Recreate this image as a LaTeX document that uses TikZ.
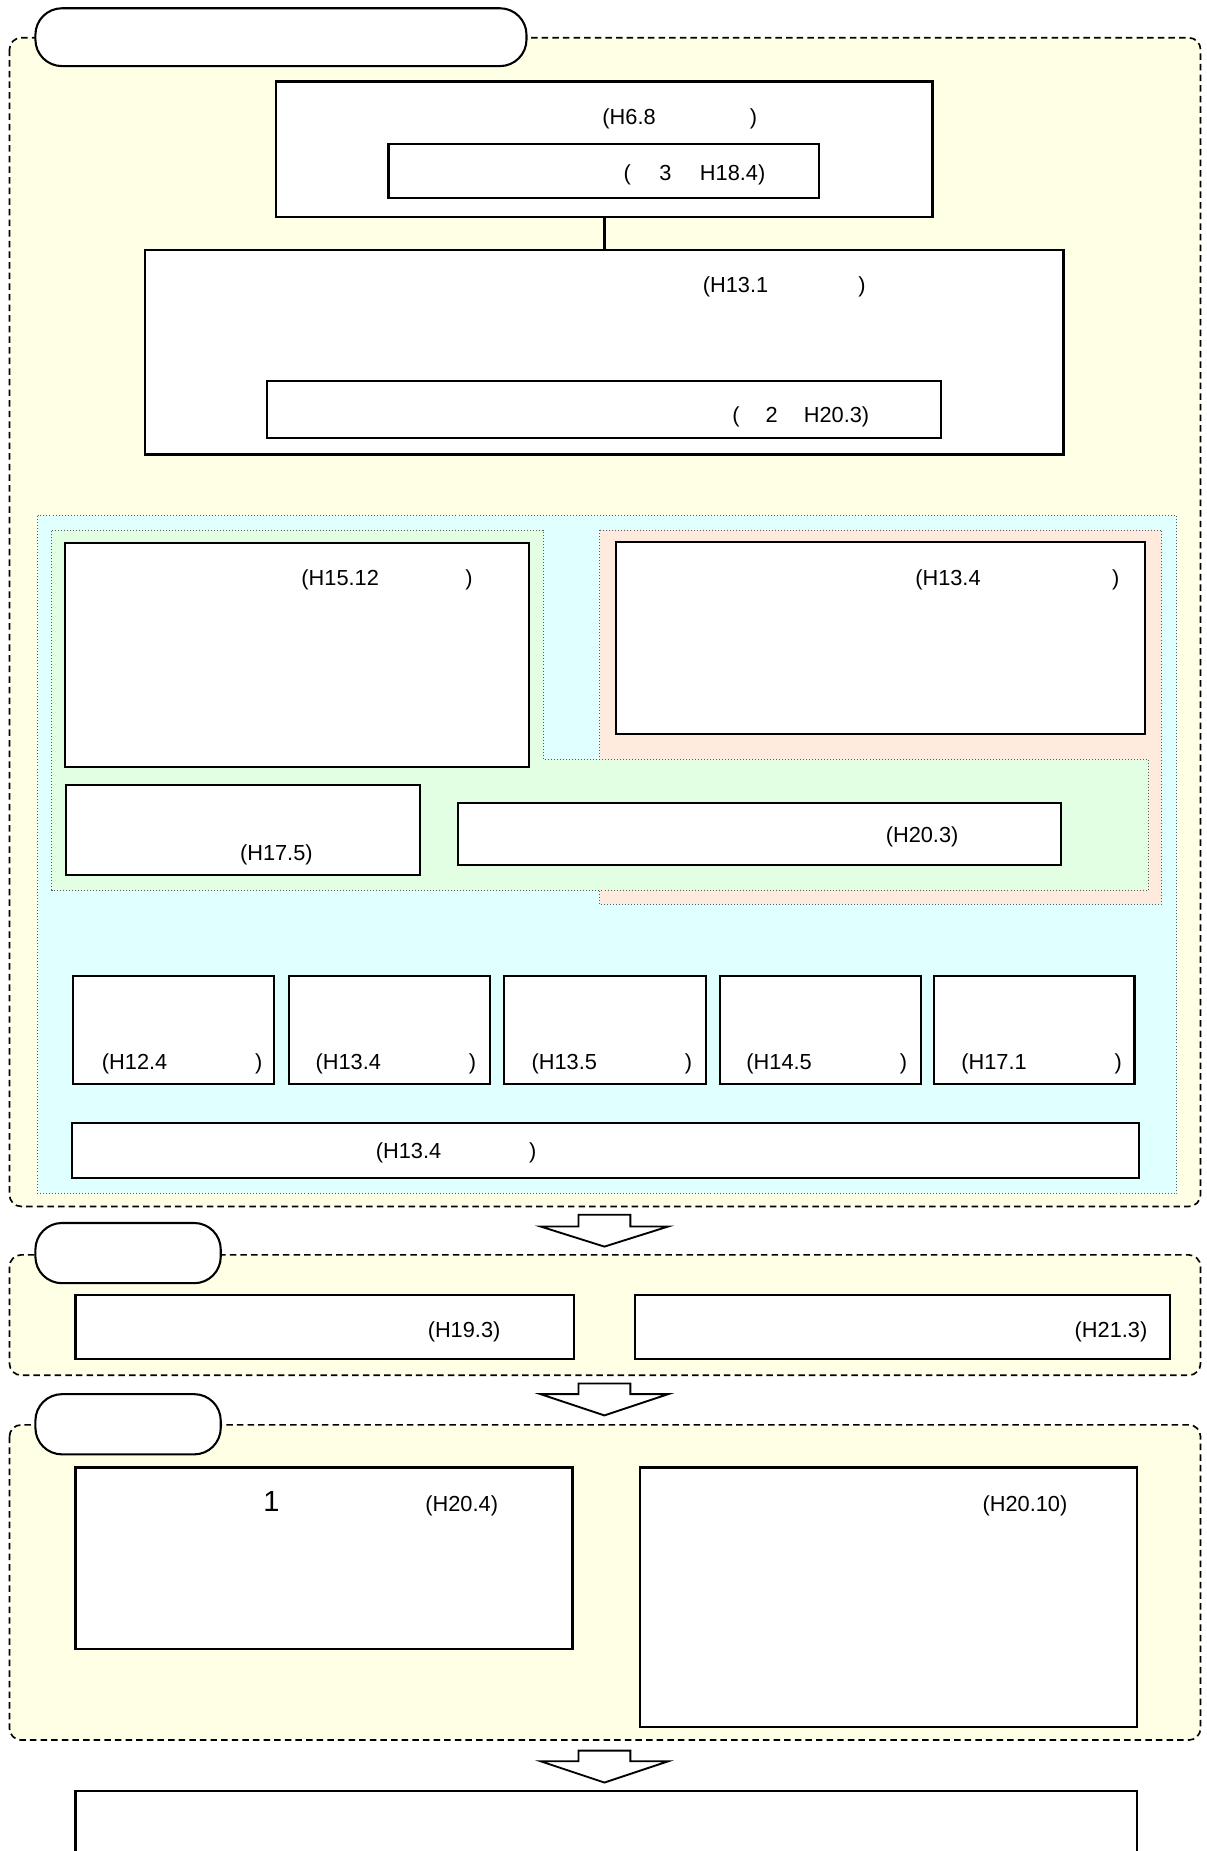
\documentclass[tikz,border=0pt]{standalone}
\usepackage{fontspec}
\setmainfont{Liberation Sans}
\usetikzlibrary{fit}
\definecolor{secyellow}{RGB}{255,255,230}
\definecolor{regblue}{RGB}{224,255,255}
\definecolor{reggreen}{RGB}{227,255,227}
\definecolor{regpeach}{RGB}{255,235,222}

\begin{document}
\begin{tikzpicture}[x=0.02cm,y=-0.02cm,
	box/.style={draw,line width=1.1pt,fill=white,inner sep=0pt},
	section/.style={draw,line width=0.8pt,dash pattern=on 0.11cm off 0.07cm,rounded corners=0.2cm,fill=secyellow},
	pill/.style={draw,line width=1pt,fill=white,rounded corners=0.45cm},
	region/.style={draw=black!65,line width=0.45pt,densely dotted},
	lbl/.style={inner sep=0pt,anchor=west,font=\fontsize{10.5}{12}\selectfont},
	openarrow/.style={draw,line width=0.9pt,fill=white}]
	\useasboundingbox (0,0) rectangle (1022,1568);
				% first stage
				\draw[section] (8,32) rectangle (1017,1022);
				\draw[pill] (30,7) rectangle (446,56);
				\node[box,fit={(234,69) (790,184)}] (law) {};
				\node[box,fit={(329,122) (694,168)}] (lawrev) {};
				\node[lbl] (tlaw) at (510,101) {\makebox[2.62cm][s]{(H6.8\hfill)}};
				\node[lbl] (tlawrev) at (528,148) {\makebox[2.4cm][s]{(\hfill3\hfill H18.4)}};
				\node[box,fit={(123,212) (901,385)}] (plan) {};
				\node[box,fit={(226,323) (797,371)}] (planrev) {};
				\draw[line width=1.1pt] (law) -- (plan);
				\node[lbl] (tplan) at (595,243) {\makebox[2.76cm][s]{(H13.1\hfill)}};
				\node[lbl] (tplanrev) at (620,353) {\makebox[2.32cm][s]{(\hfill2\hfill H20.3)}};
				% coloured areas
				\draw[region,fill=regblue] (32,437) rectangle (997,1011);
				\draw[region,fill=regpeach] (508,449) rectangle (984,766);
				\draw[region,fill=reggreen] (44,449) -- (460,449) -- (460,643) -- (973,643) -- (973,754) -- (44,754) -- cycle;
				\node[box,fit={(55,460) (448,650)}] (welfare) {};
				\node[lbl] (twelfare) at (255,491) {\makebox[2.9cm][s]{(H15.12\hfill)}};
				\node[box,fit={(522,459) (970,622)}] (care) {};
				\node[lbl] (tcare) at (775,491) {\makebox[3.46cm][s]{(H13.4\hfill)}};
				\node[box,fit={(56,665) (356,741)}] (support) {};
				\node[lbl] (tsupport) at (203,724) {(H17.5)};
				\node[box,fit={(388,680) (899,733)}] (health) {};
				\node[lbl] (thealth) at (750,709) {(H20.3)};
				% row of small plans
				\node[box,fit={(62,827) (232,918)}] (pa) {};
				\node[box,fit={(245,827) (415,918)}] (pb) {};
				\node[box,fit={(427,827) (598,918)}] (pc) {};
				\node[box,fit={(610,827) (780,918)}] (pd) {};
				\node[box,fit={(791,827) (961,918)}] (pe) {};
				\node[lbl] (tpa) at (86,901) {\makebox[2.72cm][s]{(H12.4\hfill)}};
				\node[lbl] (tpb) at (267,901) {\makebox[2.72cm][s]{(H13.4\hfill)}};
				\node[lbl] (tpc) at (450,901) {\makebox[2.72cm][s]{(H13.5\hfill)}};
				\node[lbl] (tpd) at (632,901) {\makebox[2.72cm][s]{(H14.5\hfill)}};
				\node[lbl] (tpe) at (814,901) {\makebox[2.72cm][s]{(H17.1\hfill)}};
				\node[box,fit={(61,951) (965,998)}] (wide) {};
				\node[lbl] (twide) at (318,977) {\makebox[2.72cm][s]{(H13.4\hfill)}};
				% arrows between stages
				\draw[openarrow] (490,1029) -- (534,1029) -- (534,1039) -- (566,1039) -- (512,1056) -- (458,1039) -- (490,1039) -- cycle;
				\draw[openarrow] (490,1172) -- (534,1172) -- (534,1181) -- (566,1181) -- (512,1199) -- (458,1181) -- (490,1181) -- cycle;
				\draw[openarrow] (490,1483) -- (534,1483) -- (534,1492) -- (566,1492) -- (512,1510) -- (458,1492) -- (490,1492) -- cycle;
				% second stage
				\draw[section] (8,1063) rectangle (1017,1165);
				\draw[pill] (30,1036) rectangle (187,1087);
				\node[box,fit={(64,1097) (486,1151)}] (sa) {};
				\node[lbl] (tsa) at (362,1128) {(H19.3)};
				\node[box,fit={(538,1097) (991,1151)}] (sb) {};
				\node[lbl] (tsb) at (910,1128) {(H21.3)};
				% third stage
				\draw[section] (8,1207) rectangle (1017,1474);
				\draw[pill] (30,1181) rectangle (187,1232);
				\node[box,fit={(64,1243) (485,1397)}] (ta) {};
				\node[inner sep=0pt,font=\fontsize{14}{16}\selectfont] (tone) at (230,1272) {1};
				\node[lbl] (tta) at (360,1276) {(H20.4)};
				\node[box,fit={(542,1243) (963,1463)}] (tb) {};
				\node[lbl] (ttb) at (832,1276) {(H20.10)};
				% last box, cut by the page
				\node[box,fit={(64,1517) (963,1600)}] (goal) {};
\end{tikzpicture}
\end{document}
